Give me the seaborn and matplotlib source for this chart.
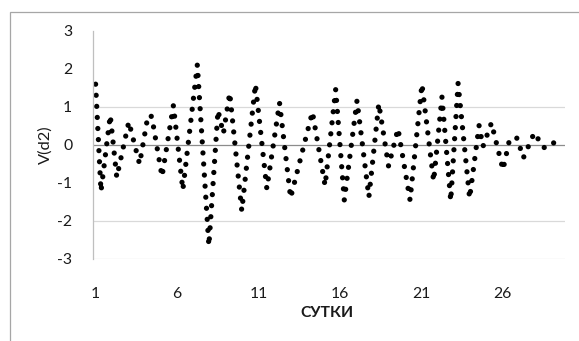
import matplotlib
matplotlib.use("Agg")
import matplotlib.pyplot as plt
import seaborn as sns
import pandas as pd
from matplotlib.patches import Rectangle

# Day positions of the line's vertices (peaks / troughs) and the values there
days = [1.00, 1.33, 1.90, 2.30, 3.04, 3.70, 4.22, 4.45, 5.08, 5.78, 6.36,
        7.25, 7.96, 8.52, 8.85, 9.24, 9.98, 10.82, 11.52, 12.30, 12.98,
        14.32, 15.10, 15.75, 16.28, 17.06, 17.79, 18.40, 19.00, 19.58,
        20.32, 21.05, 21.77, 22.28, 22.82, 23.27, 23.98, 24.56, 24.80,
        25.32, 26.03, 26.44, 26.90, 27.28, 27.95, 28.53, 29.08, 29.37]
values = [1.60, -1.22, 0.78, -0.85, 0.61, -0.50, 0.78, 0.75, -0.83, 1.04, -1.18,
          2.11, -2.65, 0.91, 0.30, 1.37, -1.73, 1.60, -1.15, 1.11, -1.39,
          0.87, -1.07, 1.46, -1.45, 1.17, -1.37, 1.09, -0.56, 0.43,
          -1.45, 1.60, -0.95, 1.26, -1.47, 1.62, -1.40, 0.51, -0.04,
          0.58, -0.65, 0.16, 0.18, -0.34, 0.32, -0.07, 0.00, 0.26]
x_ticks = [1, 6, 11, 16, 21, 26]
y_ticks = [-3, -2, -1, 0, 1, 2, 3]
x_title = "СУТКИ"
y_title = "V(d2)"

df = pd.DataFrame({"day": days, "v": values})

sns.set_style("white")
font = ["Lato", "Open Sans", "DejaVu Sans"]
plt.rcParams["font.family"] = font

W, H = 579, 341
fig = plt.figure(figsize=(W / 100, H / 100), dpi=100)
fig.patch.set_facecolor("white")

# outer chart border (clipped at right and bottom like the reference)
fig.patches.append(Rectangle((10 / W, -0.2), 1.2, 1.2 - 12 / H,
                             transform=fig.transFigure, fill=False,
                             edgecolor="#a6a6a6", linewidth=0.9))

ax = fig.add_axes([93 / W, 1 - 259 / H, (565 - 93) / W, (259 - 31) / H])
ax.set_facecolor("white")

for gy in [1, -2, -3]:
    ax.axhline(gy, color="#d9d9d9", linewidth=0.9, zorder=0)
ax.axhline(0, color="#8c8c8c", linewidth=0.9, zorder=0)

sns.lineplot(data=df, x="day", y="v", color="black", sort=False,
             estimator=None, ax=ax, linewidth=3.8)
line = ax.lines[-1]
line.set_linestyle((0, (0.001, 2.1)))
line.set_dash_capstyle("round")

ax.set_xlim(0.84, 29.84)
ax.set_ylim(-3, 3)
ax.set_xticks(x_ticks)
ax.set_xticklabels([str(t) for t in x_ticks])
ax.set_yticks(y_ticks)
ax.set_yticklabels([str(t) for t in y_ticks])

for s in ["top", "right", "bottom"]:
    ax.spines[s].set_visible(False)
ax.spines["left"].set_color("#bfbfbf")
ax.spines["left"].set_linewidth(0.9)

ax.tick_params(axis="y", length=4, width=0.9, color="#bfbfbf", pad=11,
               labelsize=11.3, labelcolor="#1a1a1a")
ax.tick_params(axis="x", length=0, pad=20, labelsize=11.3, labelcolor="#1a1a1a")
ax.set_xlabel("")
ax.set_ylabel("")

fig.text(327 / W, 1 - 313 / H, x_title, ha="center", va="center",
         fontsize=11.3, fontweight="bold", color="#1a1a1a", family=font)
fig.text(45 / W, 1 - 145 / H, y_title, ha="center", va="center",
         rotation=90, fontsize=11.8, color="#1a1a1a", family=font)

fig.savefig("out.png", dpi=100, facecolor="white")
